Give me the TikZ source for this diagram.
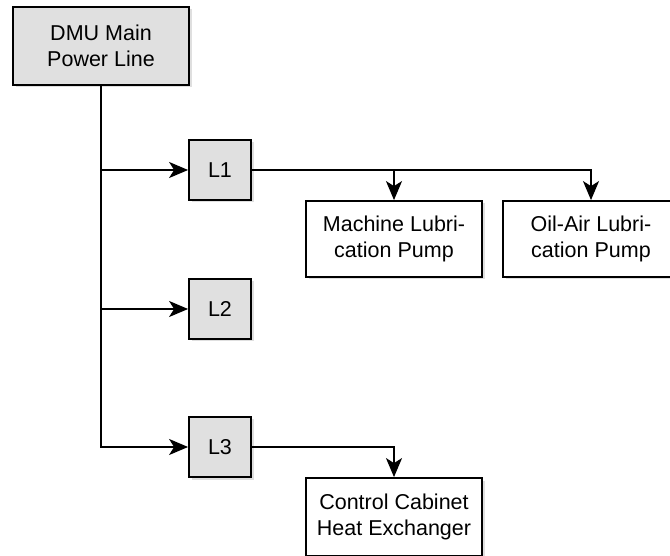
\documentclass[tikz,border=0pt]{standalone}
\usepackage{fontspec}
\setmainfont{Liberation Sans}
\usetikzlibrary{arrows.meta,shadows}
\definecolor{boxgray}{HTML}{E0E0E0}
\tikzset{
  x=1pt,y=1pt,
  base/.style={draw=black, line width=1.8pt, align=center, inner sep=0pt,
    font=\fontsize{21.5}{26.5}\selectfont,
    drop shadow={opacity=0.25, shadow xshift=2.5pt, shadow yshift=-2.5pt}},
  graybox/.style={base, fill=boxgray},
  whitebox/.style={base, fill=white},
  conn/.style={line width=1.8pt, -{Stealth[length=19pt,width=16pt,inset=5pt]}},
}
\begin{document}
\begin{tikzpicture}
\useasboundingbox (0,0) rectangle (670,555);
\node[graybox, minimum width=176, minimum height=78] (dmu) at (101,509) {DMU Main\\Power Line};
\node[graybox, minimum width=62, minimum height=60] (l1) at (220,385) {L1};
\node[graybox, minimum width=62, minimum height=60] (l2) at (220,246) {L2};
\node[graybox, minimum width=62, minimum height=60] (l3) at (220,108) {L3};
\node[whitebox, minimum width=176, minimum height=76] (mach) at (394,316) {Machine Lubri-\\cation Pump};
\node[whitebox, minimum width=176, minimum height=76] (oil) at (591,316) {Oil-Air Lubri-\\cation Pump};
\node[whitebox, minimum width=176, minimum height=78] (ctrl) at (394,38) {Control Cabinet\\Heat Exchanger};
\draw[conn] (dmu.south) |- (l3.west);
\draw[conn] (dmu.south |- l1.west) -- (l1.west);
\draw[conn] (dmu.south |- l2.west) -- (l2.west);
\draw[conn] (l1.east) -| (mach.north);
\draw[conn] (l1.east) -| (oil.north);
\draw[conn] (l3.east) -| (ctrl.north);
\end{tikzpicture}
\end{document}
